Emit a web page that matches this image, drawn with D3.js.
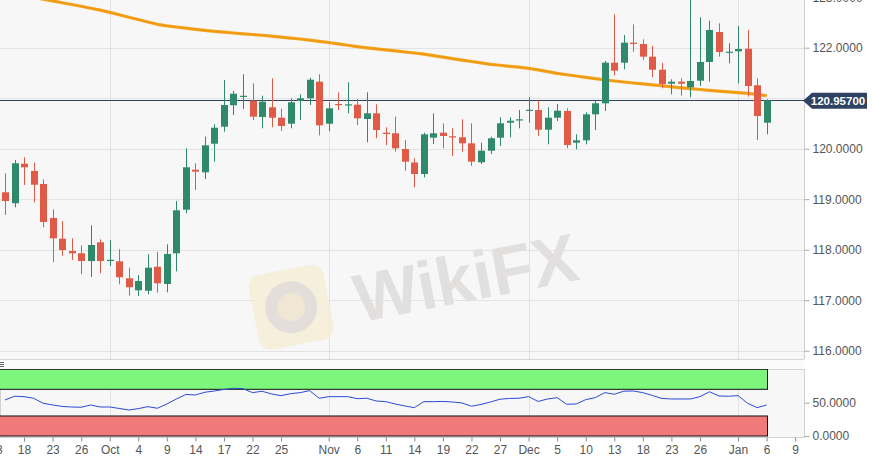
<!DOCTYPE html>
<html><head><meta charset="utf-8">
<script src="https://cdn.jsdelivr.net/npm/d3@7"></script>
<style>html,body{margin:0;padding:0;background:#fff;overflow:hidden}svg{display:block;font-family:"Liberation Sans",Arial,Helvetica,sans-serif}</style>
</head><body><svg id="c" width="873" height="457"></svg>
<script>
const open=[119.137,118.919,119.703,119.559,119.301,118.628,118.218,117.974,117.929,117.776,
118.147,117.786,117.770,117.434,117.196,117.188,117.663,117.321,117.929,118.792,
119.584,119.533,120.099,120.436,120.860,121.034,120.951,120.628,120.820,120.614,
120.495,120.945,120.998,121.327,120.495,120.885,120.865,120.871,120.588,120.701,
120.317,120.305,119.994,119.727,119.499,120.218,120.317,120.246,120.226,120.107,
119.731,119.960,120.218,120.515,120.568,120.760,120.766,120.376,120.614,120.747,
120.119,120.166,120.681,120.899,121.703,121.703,122.099,122.073,121.822,121.564,
121.287,121.327,121.216,121.347,121.717,122.311,121.901,121.929,121.980,121.256,
120.515];
const high=[119.513,119.776,119.830,119.723,119.394,118.800,118.568,118.226,118.087,118.483,
118.206,118.192,118.008,117.644,117.499,117.909,117.960,118.107,118.964,120.008,
119.711,120.238,120.483,121.360,121.143,121.473,121.295,121.050,121.394,120.792,
120.998,121.077,121.406,121.473,120.919,121.117,121.315,120.984,121.117,120.879,
120.424,120.634,120.172,119.810,120.317,120.701,120.503,120.404,120.582,120.503,
120.119,120.238,120.622,120.622,120.766,121.018,120.951,120.820,120.885,120.800,
120.285,120.721,120.951,121.737,122.661,122.252,122.463,122.166,122.040,121.703,
121.374,121.394,123.050,122.602,122.535,122.483,122.087,122.430,122.351,121.394,
120.978];
const low=[118.687,118.840,119.281,118.939,118.444,117.751,117.881,117.796,117.513,117.460,
117.533,117.677,117.315,117.089,117.083,117.117,117.149,117.157,117.572,118.721,
119.182,119.400,119.743,120.337,120.667,120.786,120.568,120.404,120.424,120.351,
120.404,120.568,120.865,120.265,120.345,120.766,120.701,120.469,120.127,120.206,
120.073,119.941,119.564,119.236,119.434,120.093,120.008,119.856,119.941,119.658,
119.697,119.895,120.053,120.226,120.404,120.515,120.252,120.087,120.549,120.008,
119.988,120.087,120.370,120.747,121.454,121.572,121.921,121.756,121.414,121.196,
121.077,121.050,121.018,121.242,121.327,121.822,121.691,121.295,121.030,120.172,
120.285];
const close=[118.964,119.711,119.632,119.287,118.549,118.226,117.994,117.929,117.776,118.093,
117.776,117.800,117.454,117.256,117.380,117.644,117.335,117.915,118.780,119.632,
119.545,120.067,120.416,120.865,121.089,121.048,120.634,120.931,120.614,120.450,
120.919,120.998,121.366,120.463,120.800,120.865,120.879,120.602,120.701,120.370,
120.291,120.008,119.743,119.499,120.285,120.305,120.252,120.226,120.107,119.743,
119.960,120.206,120.503,120.554,120.582,120.772,120.376,120.614,120.753,120.073,
120.166,120.681,120.899,121.703,121.545,122.099,122.073,121.822,121.564,121.281,
121.327,121.287,121.341,121.717,122.351,121.915,121.921,121.974,121.242,120.648,
120.957];
const ma=[123.103,123.067,123.034,122.998,122.962,122.927,122.891,122.856,122.820,122.782,
122.745,122.699,122.652,122.604,122.557,122.509,122.463,122.432,122.410,122.386,
122.363,122.343,122.325,122.307,122.291,122.275,122.261,122.246,122.228,122.210,
122.190,122.172,122.149,122.125,122.103,122.075,122.048,122.020,121.998,121.978,
121.957,121.937,121.915,121.895,121.873,121.844,121.814,121.784,121.754,121.727,
121.699,121.669,121.652,121.632,121.614,121.592,121.561,121.527,121.493,121.465,
121.440,121.412,121.386,121.362,121.341,121.321,121.301,121.283,121.265,121.246,
121.226,121.206,121.190,121.172,121.154,121.139,121.125,121.111,121.097,121.073,
121.050];
const rsi=[54.0,59.6,59.0,56.6,49.1,46.5,44.3,43.5,43.1,46.5,
43.5,43.5,41.3,39.0,41.0,44.0,41.6,48.0,55.5,62.3,
61.5,65.6,67.5,69.8,71.6,71.0,65.0,67.1,63.0,60.5,
63.5,65.0,68.0,56.6,59.0,59.0,59.0,56.0,56.6,52.5,
51.5,48.0,45.0,42.5,51.5,51.5,51.8,51.0,49.5,44.6,
47.3,51.0,55.1,56.3,56.6,59.0,51.8,55.5,57.5,47.6,
48.0,54.5,57.5,65.0,62.6,67.2,67.5,65.0,60.8,56.3,
55.5,55.5,55.5,59.0,66.3,60.0,59.6,60.5,49.1,42.5,
46.5];
const tickIndex=[-1,2,5,8,11,14,17,20,23,26,29,34,37,40,43,46,49,52,55,58,61,64,67,70,73,77,80,83];
const tickLabels=["13","18","23","26","Oct","4","9","14","17","22","25","Nov","6","11","14","19","22","27","Dec","5","10","13","18","23","26","Jan","6","9"];
const monthIndex=[11,34,55,77];
const gridTicks=[116,117,118,119,120,121,122,123];
const priceTicks=[116,117,118,119,120,122,123];
const rsiTicks=[0,50];
const lastPrice=120.957;
const bandUpper=[70,100], bandLower=[0,30];

const svg=d3.select("#c");
const plotR=804, mainBot=359, subTop=369, subBot=437;
const x=d3.scaleLinear().domain([0,80]).range([5,766.6]);
const y=d3.scaleLinear().domain([116,123]).range([350.7,-2.8]);
const yr=d3.scaleLinear().domain([0,100]).range([436,369.3]);
const idx=d3.range(open.length);

svg.append("defs").html('<clipPath id="mc"><rect x="0" y="0" width="'+plotR+'" height="'+mainBot+'"/></clipPath><clipPath id="sc"><rect x="0" y="'+subTop+'" width="'+plotR+'" height="'+(subBot-subTop)+'"/></clipPath>');

svg.append("rect").attr("x",0).attr("y",0).attr("width",plotR).attr("height",mainBot).attr("fill","#f7f7f7");
const main=svg.append("g").attr("clip-path","url(#mc)");
main.selectAll(".hg").data(gridTicks).join("line").attr("x1",0).attr("x2",plotR)
  .attr("y1",d=>Math.round(y(d))+0.5).attr("y2",d=>Math.round(y(d))+0.5).attr("stroke","#e3e3e3");
main.selectAll(".vg").data(monthIndex).join("line").attr("y1",0).attr("y2",mainBot)
  .attr("x1",d=>Math.round(x(d))+0.5).attr("x2",d=>Math.round(x(d))+0.5).attr("stroke","#e3e3e3");

// watermark
const wm=main.append("g").attr("transform","translate(462,274) rotate(-11)");
wm.append("rect").attr("x",-212).attr("y",-38).attr("width",76).attr("height",76).attr("rx",12).attr("fill","#f4ecd4").attr("opacity",0.8);
wm.append("circle").attr("cx",-174).attr("cy",0).attr("r",26).attr("fill","#e3ded9");
wm.append("circle").attr("cx",-174).attr("cy",0).attr("r",14).attr("fill","#efe7d3");
wm.append("text").attr("x",-110).attr("y",28).attr("font-size",68).attr("font-weight","bold")
  .attr("fill","#e2dfdf").text("WikiFX");

// MA line
const maLine=d3.line().x(i=>x(i)).y(i=>y(ma[i]));
main.append("path").datum(idx).attr("fill","none").attr("stroke","#f5a623").attr("stroke-width",3.2)
  .attr("stroke-linejoin","round").attr("d",maLine);
main.append("path").datum(idx).attr("fill","none").attr("stroke","#ef9a10").attr("stroke-width",1.6).attr("d",maLine);

// last price line
main.append("line").attr("x1",0).attr("x2",plotR).attr("y1",Math.round(y(lastPrice))+0.5).attr("y2",Math.round(y(lastPrice))+0.5)
  .attr("stroke","#2f4262").attr("stroke-width",1);

// candles
const up="#2f8a6c", dn="#e05a48";
const cg=main.selectAll(".cd").data(idx).join("g");
cg.append("line").attr("x1",i=>Math.round(x(i))+0.5).attr("x2",i=>Math.round(x(i))+0.5)
  .attr("y1",i=>y(high[i])).attr("y2",i=>y(low[i])).attr("stroke",i=>close[i]>=open[i]?up:dn);
cg.append("rect").attr("x",i=>Math.round(x(i))-3).attr("width",7)
  .attr("y",i=>y(Math.max(open[i],close[i])))
  .attr("height",i=>Math.max(1.2,Math.abs(y(open[i])-y(close[i]))))
  .attr("fill",i=>close[i]>=open[i]?up:dn);

// main axis
svg.append("line").attr("x1",plotR+0.5).attr("x2",plotR+0.5).attr("y1",0).attr("y2",mainBot).attr("stroke","#cfcfcf");
svg.append("line").attr("x1",0).attr("x2",plotR).attr("y1",mainBot+0.5).attr("y2",mainBot+0.5).attr("stroke","#d6d6d6");
const ya=svg.append("g").attr("transform","translate("+(plotR+0.5)+",0)")
  .call(d3.axisRight(y).tickValues(priceTicks).tickFormat(d=>d.toFixed(4)).tickSize(5).tickPadding(3));
ya.select(".domain").remove();
ya.selectAll("line").attr("stroke","#aaa");
ya.selectAll("text").attr("fill","#555").attr("font-size",12).attr("font-family","Liberation Sans, Arial, sans-serif");

// price tag
const ty=y(lastPrice);
svg.append("path").attr("d","M"+(plotR-1)+","+(ty+0.5)+" L"+(plotR+8)+","+(ty-7.5)+" L867,"+(ty-7.5)+" L867,"+(ty+8.5)+" L"+(plotR+8)+","+(ty+8.5)+" Z")
  .attr("fill","#2f4262");
svg.append("text").attr("x",838).attr("y",ty+0.5).attr("dy","0.36em").attr("text-anchor","middle")
  .attr("fill","#fff").attr("font-size",11.5).attr("font-weight","bold").text(lastPrice.toFixed(5));

// sub panel
svg.append("rect").attr("x",0).attr("y",mainBot+1).attr("width",plotR).attr("height",subTop-mainBot-1).attr("fill","#fbfbfb");
svg.append("g").attr("stroke","#666").attr("stroke-width",1).selectAll("line").data([362.5,364.5,366.5]).join("line")
  .attr("x1",0).attr("x2",4).attr("y1",d=>d).attr("y2",d=>d);
svg.append("rect").attr("x",0.5).attr("y",subTop+0.5).attr("width",plotR).attr("height",subBot-subTop).attr("fill","#f7f7f7").attr("stroke","#d2d2d2");
const sub=svg.append("g").attr("clip-path","url(#sc)");
sub.selectAll(".vg2").data(monthIndex).join("line").attr("y1",subTop).attr("y2",subBot)
  .attr("x1",d=>Math.round(x(d))+0.5).attr("x2",d=>Math.round(x(d))+0.5).attr("stroke","#e3e3e3");
const bandR=Math.round(x(80))+0.5;
sub.append("rect").attr("x",-2).attr("y",yr(bandUpper[1])).attr("width",bandR+2).attr("height",yr(bandUpper[0])-yr(bandUpper[1]))
  .attr("fill","#7cf77c").attr("stroke","#111").attr("stroke-width",1);
sub.append("rect").attr("x",-2).attr("y",yr(bandLower[1])).attr("width",bandR+2).attr("height",yr(bandLower[0])-yr(bandLower[1]))
  .attr("fill","#f07a7a").attr("stroke","#111").attr("stroke-width",1);
sub.append("path").datum(idx).attr("fill","none").attr("stroke","#2a4bd6").attr("stroke-width",1)
  .attr("d",d3.line().x(i=>x(i)).y(i=>yr(rsi[i])));
const ra=svg.append("g").attr("transform","translate("+(plotR+0.5)+",0)")
  .call(d3.axisRight(yr).tickValues(rsiTicks).tickFormat(d=>d.toFixed(4)).tickSize(5).tickPadding(3));
ra.select(".domain").remove();
ra.selectAll("line").attr("stroke","#aaa");
ra.selectAll("text").attr("fill","#555").attr("font-size",12).attr("font-family","Liberation Sans, Arial, sans-serif");

// x axis
const xa=svg.append("g").attr("transform","translate(0,"+(subBot+0.5)+")")
  .call(d3.axisBottom(x).tickValues(tickIndex).tickFormat((d,i)=>tickLabels[i]).tickSize(4).tickPadding(4));
xa.select(".domain").remove();
xa.selectAll("line").attr("stroke","#888");
xa.selectAll("text").attr("fill","#555").attr("font-size",12).attr("font-family","Liberation Sans, Arial, sans-serif");
</script></body></html>
